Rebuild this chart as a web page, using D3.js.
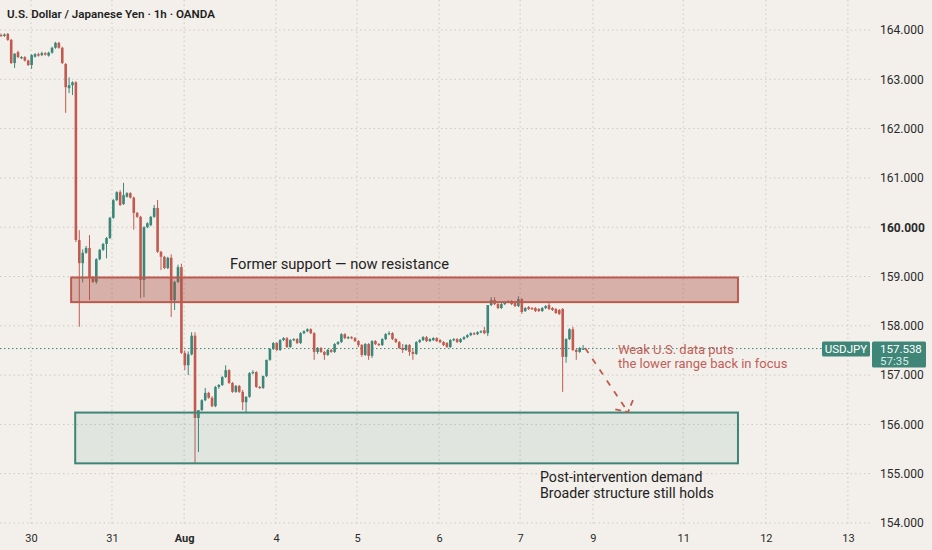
<!DOCTYPE html>
<html>
<head>
<meta charset="utf-8">
<script src="https://cdn.jsdelivr.net/npm/d3@7"></script>
<style>
  html, body { margin: 0; padding: 0; background: #f3f0eb; }
  svg { display: block; font-family: Roboto, "Noto Sans", sans-serif; }
</style>
</head>
<body>
<div id="chart"></div>
<script>
// hourly USDJPY candles
const opens = [163.90,163.88,163.92,163.80,163.33,163.55,163.43,163.45,163.38,163.29,163.46,163.51,163.49,163.53,163.48,163.54,163.64,163.74,163.64,163.31,
  162.82,162.88,162.94,159.74,159.27,159.48,159.58,158.99,158.89,159.35,159.54,159.66,159.78,160.19,160.55,160.71,160.47,160.62,160.69,160.60,
  160.29,160.21,158.93,160.00,160.04,160.21,160.39,159.50,159.40,159.17,159.38,158.52,158.89,159.19,157.45,157.20,157.42,157.80,156.13,156.29,
  156.49,156.64,156.54,156.37,156.76,156.80,156.96,157.10,156.84,156.66,156.78,156.66,156.45,156.56,157.04,157.06,156.76,156.74,156.98,157.31,
  157.53,157.65,157.51,157.71,157.75,157.57,157.71,157.73,157.65,157.85,157.89,157.93,157.85,157.47,157.55,157.47,157.41,157.51,157.47,157.63,
  157.67,157.83,157.75,157.77,157.75,157.69,157.61,157.41,157.63,157.39,157.69,157.63,157.61,157.73,157.83,157.85,157.73,157.67,157.55,157.51,
  157.61,157.47,157.43,157.67,157.71,157.77,157.69,157.71,157.75,157.71,157.67,157.65,157.57,157.71,157.73,157.67,157.73,157.77,157.81,157.85,
  157.83,157.87,157.91,157.85,158.42,158.52,158.44,158.36,158.44,158.48,158.50,158.46,158.40,158.54,158.30,158.38,158.36,158.36,158.34,158.30,
  158.36,158.42,158.36,158.34,158.32,158.34,157.37,157.73,157.93,157.51,157.47,157.53];
const highs = [163.93,163.93,163.94,163.82,163.53,163.58,163.47,163.47,163.40,163.51,163.53,163.54,163.56,163.55,163.56,163.66,163.76,163.76,163.66,163.33,
  163.04,162.96,162.96,159.94,159.55,159.62,159.84,159.01,159.37,159.56,159.68,159.80,160.21,160.57,160.73,160.75,160.90,160.71,160.71,160.62,
  160.31,160.23,160.02,160.10,160.23,160.45,160.55,159.52,159.42,159.40,159.45,158.91,159.24,159.26,157.50,157.48,157.87,157.87,156.27,156.51,
  156.74,156.66,156.57,156.78,156.82,156.98,157.20,157.12,156.86,156.80,156.80,156.70,156.57,157.06,157.10,157.08,156.78,156.99,157.31,157.55,
  157.67,157.67,157.73,157.77,157.77,157.73,157.75,157.75,157.87,157.91,157.95,157.95,157.87,157.57,157.57,157.49,157.53,157.53,157.65,157.69,
  157.85,157.85,157.79,157.79,157.77,157.71,157.63,157.65,157.65,157.71,157.71,157.65,157.75,157.85,157.89,157.87,157.75,157.69,157.63,157.63,
  157.63,157.53,157.69,157.73,157.79,157.79,157.75,157.77,157.77,157.73,157.69,157.67,157.73,157.75,157.75,157.75,157.79,157.83,157.87,157.87,
  157.89,157.91,157.98,158.42,158.58,158.58,158.46,158.46,158.50,158.52,158.52,158.48,158.60,158.56,158.38,158.40,158.38,158.38,158.36,158.38,
  158.42,158.46,158.38,158.36,158.34,158.36,157.75,157.95,157.98,157.53,157.57,157.61];
const lows = [163.86,163.86,163.78,163.31,163.23,163.43,163.41,163.36,163.27,163.21,163.44,163.46,163.47,163.48,163.46,163.52,163.62,163.62,163.31,162.32,
  162.72,162.68,159.70,157.98,158.88,159.46,158.52,158.87,158.85,159.33,159.52,159.37,159.76,160.17,160.53,160.43,160.45,160.60,160.58,159.95,
  160.19,158.56,158.58,159.98,160.02,160.19,159.48,159.13,159.15,159.15,158.18,158.32,158.87,157.43,157.10,157.00,157.40,155.22,155.44,156.27,
  156.47,156.52,156.35,156.35,156.72,156.78,156.94,156.82,156.64,156.64,156.64,156.29,156.25,156.54,157.02,156.74,156.72,156.72,156.96,157.29,
  157.51,157.49,157.49,157.69,157.55,157.55,157.69,157.63,157.63,157.83,157.87,157.83,157.31,157.43,157.45,157.31,157.39,157.45,157.45,157.61,
  157.65,157.73,157.73,157.73,157.67,157.57,157.37,157.39,157.31,157.35,157.61,157.59,157.59,157.71,157.81,157.71,157.65,157.53,157.45,157.49,
  157.39,157.31,157.41,157.65,157.69,157.67,157.67,157.69,157.67,157.65,157.59,157.55,157.55,157.69,157.65,157.65,157.71,157.75,157.79,157.81,
  157.81,157.85,157.83,157.79,158.40,158.42,158.34,158.34,158.42,158.46,158.42,158.38,158.38,158.24,158.28,158.32,158.32,158.28,158.28,158.28,
  158.34,158.32,158.30,158.24,158.22,156.66,157.25,157.71,157.49,157.31,157.45,157.51];
const closes = [163.88,163.91,163.80,163.33,163.52,163.45,163.45,163.38,163.29,163.49,163.51,163.48,163.53,163.50,163.54,163.64,163.74,163.64,163.33,162.84,
  162.88,162.94,159.74,159.27,159.48,159.58,158.99,158.89,159.35,159.54,159.66,159.78,160.19,160.55,160.71,160.45,160.65,160.69,160.60,160.29,
  160.21,158.93,160.00,160.08,160.21,160.39,159.50,159.40,159.17,159.38,158.52,158.89,159.19,157.45,157.20,157.42,157.80,156.13,156.29,156.49,
  156.64,156.54,156.37,156.76,156.80,156.96,157.10,156.84,156.66,156.78,156.66,156.45,156.56,157.04,157.06,156.76,156.74,156.98,157.31,157.53,
  157.65,157.51,157.71,157.75,157.57,157.71,157.73,157.65,157.85,157.89,157.93,157.85,157.47,157.55,157.47,157.41,157.51,157.47,157.63,157.67,
  157.83,157.75,157.77,157.75,157.69,157.61,157.41,157.63,157.39,157.69,157.63,157.61,157.73,157.83,157.85,157.73,157.67,157.55,157.51,157.61,
  157.47,157.43,157.67,157.71,157.77,157.69,157.73,157.75,157.69,157.67,157.61,157.57,157.71,157.73,157.67,157.73,157.77,157.81,157.85,157.83,
  157.87,157.89,157.85,158.42,158.52,158.44,158.36,158.44,158.48,158.50,158.44,158.40,158.54,158.28,158.36,158.34,158.34,158.30,158.30,158.36,
  158.40,158.34,158.32,158.26,158.24,157.37,157.73,157.93,157.51,157.47,157.55,157.538];

const lastPrice = 157.538;
const countdown = '57:35';

// zones and the projected path
const resistance = [158.48, 158.98];
const support = [155.21, 156.24];
const zoneFrom = [20.6, 21.8];   // bar index where each box starts
const zoneTo = 216.5;
const projIndex = [171.6, 184.2];
const projPrice = [157.55, 156.25];

const dayLabels = ['30', '31', 'Aug', '4', '5', '6', '7', '9', '11', '12', '13'];
const dayIndex = [8.8, 32.6, 53.8, 80.8, 104.6, 128.7, 152.5, 173.9, 200.4, 224.7, 248.8];
const priceTicks = d3.range(154, 165, 1);

const width = 932, height = 550;
const up = '#3a877a', down = '#c25a4f';

const svg = d3.select('#chart').append('svg')
    .attr('width', width)
    .attr('height', height);

svg.append('rect')
    .attr('width', width)
    .attr('height', height)
    .attr('fill', '#f3f0eb');

const x = d3.scaleLinear().domain([0, 250]).range([1, 852]);
const y = d3.scaleLinear().domain([154, 164]).range([523, 30]);

// grid
svg.append('g').selectAll('line')
  .data(priceTicks)
  .join('line')
    .attr('x1', 0).attr('x2', 870)
    .attr('y1', d => y(d)).attr('y2', d => y(d))
    .attr('stroke', '#cdc8c1')
    .attr('stroke-dasharray', '1.5,3');

svg.append('g').selectAll('line')
  .data(dayIndex)
  .join('line')
    .attr('x1', d => x(d)).attr('x2', d => x(d))
    .attr('y1', 0).attr('y2', 526)
    .attr('stroke', '#cdc8c1')
    .attr('stroke-dasharray', '1.5,3');

// last price line
svg.append('line')
    .attr('x1', 0).attr('x2', 822)
    .attr('y1', y(lastPrice)).attr('y2', y(lastPrice))
    .attr('stroke', '#3d8577')
    .attr('stroke-width', 1)
    .attr('stroke-dasharray', '1.5,2.5');

// candles
const bars = closes.map((c, i) => ({i, o: opens[i], h: highs[i], l: lows[i], c}));
const cg = svg.append('g');

cg.selectAll('.wick')
  .data(bars)
  .join('line')
    .attr('class', 'wick')
    .attr('x1', d => x(d.i)).attr('x2', d => x(d.i))
    .attr('y1', d => y(d.h)).attr('y2', d => y(d.l))
    .attr('stroke', d => d.c >= d.o ? up : down)
    .attr('stroke-width', 1);

cg.selectAll('.body')
  .data(bars)
  .join('rect')
    .attr('class', 'body')
    .attr('x', d => x(d.i) - 1.3)
    .attr('width', 2.6)
    .attr('y', d => y(Math.max(d.o, d.c)))
    .attr('height', d => Math.max(1.2, Math.abs(y(d.o) - y(d.c))))
    .attr('fill', d => d.c >= d.o ? up : down);

// zones
svg.append('rect')
    .attr('x', x(zoneFrom[0]))
    .attr('width', x(zoneTo) - x(zoneFrom[0]))
    .attr('y', y(resistance[1]))
    .attr('height', y(resistance[0]) - y(resistance[1]))
    .attr('fill', 'rgba(170,80,70,0.40)')
    .attr('stroke', '#bb5a4f')
    .attr('stroke-width', 2);

svg.append('rect')
    .attr('x', x(zoneFrom[1]))
    .attr('width', x(zoneTo) - x(zoneFrom[1]))
    .attr('y', y(support[1]))
    .attr('height', y(support[0]) - y(support[1]))
    .attr('fill', 'rgba(70,140,120,0.10)')
    .attr('stroke', '#3d8577')
    .attr('stroke-width', 2);

// projected move
const p0 = [x(projIndex[0]), y(projPrice[0])];
const p1 = [x(projIndex[1]), y(projPrice[1])];
const back = Math.atan2(p0[1] - p1[1], p0[0] - p1[0]);
const arm = a => [p1[0] + 13 * Math.cos(back + a), p1[1] + 13 * Math.sin(back + a)];

const proj = svg.append('g')
    .attr('fill', 'none')
    .attr('stroke', '#c25a4f')
    .attr('stroke-width', 1.8)
    .attr('stroke-dasharray', '6,7');

proj.append('path').attr('d', d3.line()([p0, p1]));
proj.append('path').attr('d', d3.line()([arm(-0.78), p1, arm(0.98)]))
    .attr('stroke-dasharray', '6,4');

// notes
svg.append('text')
    .attr('x', x(67.3)).attr('y', y(159.16))
    .attr('font-size', 14.7)
    .attr('fill', '#222')
    .text('Former support — now resistance');

const weak = svg.append('text')
    .attr('x', 618).attr('y', 354)
    .attr('font-size', 13)
    .attr('fill', '#c0605a');
weak.append('tspan').attr('x', 618).text('Weak U.S. data puts');
weak.append('tspan').attr('x', 618).attr('dy', 13.5).text('the lower range back in focus');

const post = svg.append('text')
    .attr('x', 540).attr('y', 481.5)
    .attr('font-size', 14.2)
    .attr('fill', '#222');
post.append('tspan').attr('x', 540).text('Post-intervention demand');
post.append('tspan').attr('x', 540).attr('dy', 16.6).text('Broader structure still holds');

// title
svg.append('text')
    .attr('x', 7).attr('y', 18)
    .attr('font-size', 11.6)
    .attr('font-weight', 600)
    .attr('fill', '#1e1e1e')
    .text('U.S. Dollar / Japanese Yen · 1h · OANDA');

// axes
const yAxis = svg.append('g')
    .attr('transform', 'translate(880,0)')
    .call(d3.axisRight(y).tickValues(priceTicks).tickFormat(d3.format('.3f')).tickSize(0).tickPadding(0));
yAxis.select('.domain').remove();
yAxis.selectAll('text')
    .attr('font-family', 'Roboto, "Noto Sans", sans-serif')
    .attr('font-size', 12)
    .attr('fill', '#2a2a2a')
    .attr('font-weight', d => d === 160 ? 700 : 400);

const xAxis = svg.append('g')
    .attr('transform', 'translate(0,531)')
    .call(d3.axisBottom(x).tickValues(dayIndex).tickFormat((d, i) => dayLabels[i]).tickSize(0).tickPadding(3));
xAxis.select('.domain').remove();
xAxis.selectAll('text')
    .attr('font-family', 'Roboto, "Noto Sans", sans-serif')
    .attr('font-size', 11)
    .attr('fill', '#2a2a2a')
    .attr('font-weight', (d, i) => dayLabels[i] === 'Aug' ? 700 : 400);

// last price tags
const yl = y(lastPrice);
svg.append('rect')
    .attr('x', 822).attr('y', yl - 7).attr('width', 48).attr('height', 15)
    .attr('rx', 1.5)
    .attr('fill', '#3f8679');
svg.append('text')
    .attr('x', 846).attr('y', yl + 4.5)
    .attr('text-anchor', 'middle')
    .attr('font-size', 11.5)
    .attr('fill', '#fff')
    .text('USDJPY');

svg.append('rect')
    .attr('x', 872).attr('y', yl - 7).attr('width', 54).attr('height', 26)
    .attr('rx', 1.5)
    .attr('fill', '#3f8679');
svg.append('text')
    .attr('x', 880).attr('y', yl + 4)
    .attr('font-size', 11.5)
    .attr('fill', '#fff')
    .text(d3.format('.3f')(lastPrice));
svg.append('text')
    .attr('x', 880).attr('y', yl + 16.5)
    .attr('font-size', 11.5)
    .attr('fill', '#d9ebe6')
    .text(countdown);
</script>
</body>
</html>
